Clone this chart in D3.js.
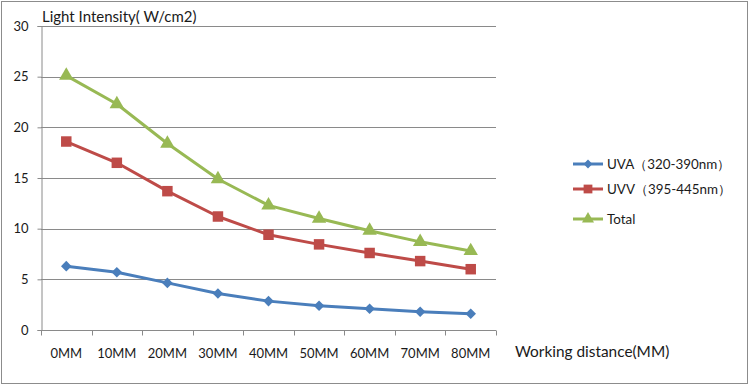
<!DOCTYPE html>
<html>
<head>
<meta charset="utf-8">
<title>Light Intensity vs Working distance</title>
<script src="https://cdnjs.cloudflare.com/ajax/libs/d3/7.8.5/d3.min.js"></script>
<style>
  body { margin: 0; background: #fff; }
  text { font-family: Lato, "Open Sans", sans-serif; fill: #1a1a1a; }
</style>
</head>
<body>
<div id="chart"></div>
<script>
    // data
    var categories = ["0MM", "10MM", "20MM", "30MM", "40MM", "50MM", "60MM", "70MM", "80MM"];
    var uvaValues = [6.3, 5.7, 4.65, 3.6, 2.85, 2.4, 2.1, 1.8, 1.6];
    var uvvValues = [18.6, 16.5, 13.7, 11.2, 9.4, 8.45, 7.6, 6.8, 6.0];
    var totalValues = [25.1, 22.3, 18.4, 14.9, 12.3, 11.0, 9.8, 8.7, 7.8];
    var yTicks = [0, 5, 10, 15, 20, 25, 30];
    var seriesNames = ["UVA\uFF08320-390nm\uFF09", "UVV\uFF08395-445nm\uFF09", "Total"];

    var width = 750,
        height = 386;

    var svg = d3.select("#chart").append("svg")
        .attr("width", width)
        .attr("height", height);

    // outer frame
    svg.append("rect")
        .attr("x", 1.5).attr("y", 1.5)
        .attr("width", width - 4).attr("height", height - 4)
        .attr("fill", "#fff")
        .attr("stroke", "#8c8c8c");

    var plot = { left: 41, right: 496, top: 26, bottom: 330 };

    var x = d3.scaleBand()
        .domain(categories)
        .range([plot.left, plot.right]);

    var y = d3.scaleLinear()
        .domain([0, 30])
        .range([plot.bottom, plot.top]);

    //gridlines
    svg.append("g").selectAll("line")
        .data(yTicks.filter(function(d) { return d > 0; }))
        .enter().append("line")
        .attr("x1", plot.left).attr("x2", plot.right)
        .attr("y1", function(d) { return Math.round(y(d)) + 0.5; })
        .attr("y2", function(d) { return Math.round(y(d)) + 0.5; })
        .attr("stroke", "#8a8a8a")
        .attr("stroke-width", 1);

    // y axis
    var yAxis = svg.append("g")
        .attr("transform", "translate(" + (plot.left + 0.5) + ",0)")
        .call(d3.axisLeft(y).tickValues(yTicks).tickSize(4).tickPadding(9));
    yAxis.select(".domain").attr("stroke", "#8a8a8a");
    yAxis.selectAll(".tick line").attr("stroke", "#8a8a8a");
    yAxis.selectAll("text").style("font-size", "13px").attr("fill", "#1a1a1a")
        .style("font-family", "Lato, 'Open Sans', sans-serif");

    // x axis, ticks on band edges
    var xAxis = svg.append("g")
        .attr("transform", "translate(0," + (plot.bottom + 0.5) + ")");
    xAxis.append("line")
        .attr("x1", plot.left).attr("x2", plot.right)
        .attr("stroke", "#8a8a8a");
    xAxis.selectAll(".edge")
        .data(categories.concat(["end"]))
        .enter().append("line")
        .attr("class", "edge")
        .attr("x1", function(d, i) { return Math.round(plot.left + i * x.step()) + 0.5; })
        .attr("x2", function(d, i) { return Math.round(plot.left + i * x.step()) + 0.5; })
        .attr("y1", 0).attr("y2", 5)
        .attr("stroke", "#8a8a8a");
    xAxis.selectAll(".lbl")
        .data(categories)
        .enter().append("text")
        .attr("class", "lbl")
        .attr("x", function(d) { return x(d) + x.bandwidth() / 2; })
        .attr("y", 27)
        .attr("text-anchor", "middle")
        .style("font-size", "13px")
        .text(function(d) { return d; });

    // axis titles
    svg.append("text")
        .attr("x", 42).attr("y", 22)
        .style("font-size", "15px")
        .text("Light Intensity( W/cm2)");
    svg.append("text")
        .attr("x", 515).attr("y", 357)
        .style("font-size", "15.4px")
        .text("Working distance(MM)");

    // diamond = square turned 45 degrees
    var series = [
        { name: seriesNames[0], values: uvaValues, color: "#4a7ebb", symbol: d3.symbolSquare, size: 56, rot: 45 },
        { name: seriesNames[1], values: uvvValues, color: "#be4b48", symbol: d3.symbolSquare, size: 110, rot: 0 },
        { name: seriesNames[2], values: totalValues, color: "#98b954", symbol: d3.symbolTriangle, size: 90, rot: 0 }
    ];

    var line = d3.line()
        .x(function(d, i) { return x(categories[i]) + x.bandwidth() / 2; })
        .y(function(d) { return y(d); });

    series.forEach(function(s) {
        var g = svg.append("g");
        g.append("path")
            .attr("d", line(s.values))
            .attr("fill", "none")
            .attr("stroke", s.color)
            .attr("stroke-width", 3)
            .attr("stroke-linejoin", "round");
        g.selectAll("path.mark")
            .data(s.values)
            .enter().append("path")
            .attr("class", "mark")
            .attr("d", d3.symbol().type(s.symbol).size(s.size))
            .attr("transform", function(d, i) {
                return "translate(" + (x(categories[i]) + x.bandwidth() / 2) + "," + y(d) + ") rotate(" + s.rot + ")";
            })
            .attr("fill", s.color);
    });

    // legend
    var legendY = [164, 189, 219];
    var legend = svg.append("g");
    series.forEach(function(s, i) {
        var lg = legend.append("g").attr("transform", "translate(0," + legendY[i] + ")");
        lg.append("line")
            .attr("x1", 573).attr("x2", 603)
            .attr("stroke", s.color).attr("stroke-width", 3);
        lg.append("path")
            .attr("d", d3.symbol().type(s.symbol).size(s.size * 0.7))
            .attr("transform", "translate(588,0) rotate(" + s.rot + ")")
            .attr("fill", s.color);
        lg.append("text")
            .attr("x", 607).attr("y", 4.5)
            .style("font-size", "13.4px")
            .text(s.name);
    });
</script>
</body>
</html>
